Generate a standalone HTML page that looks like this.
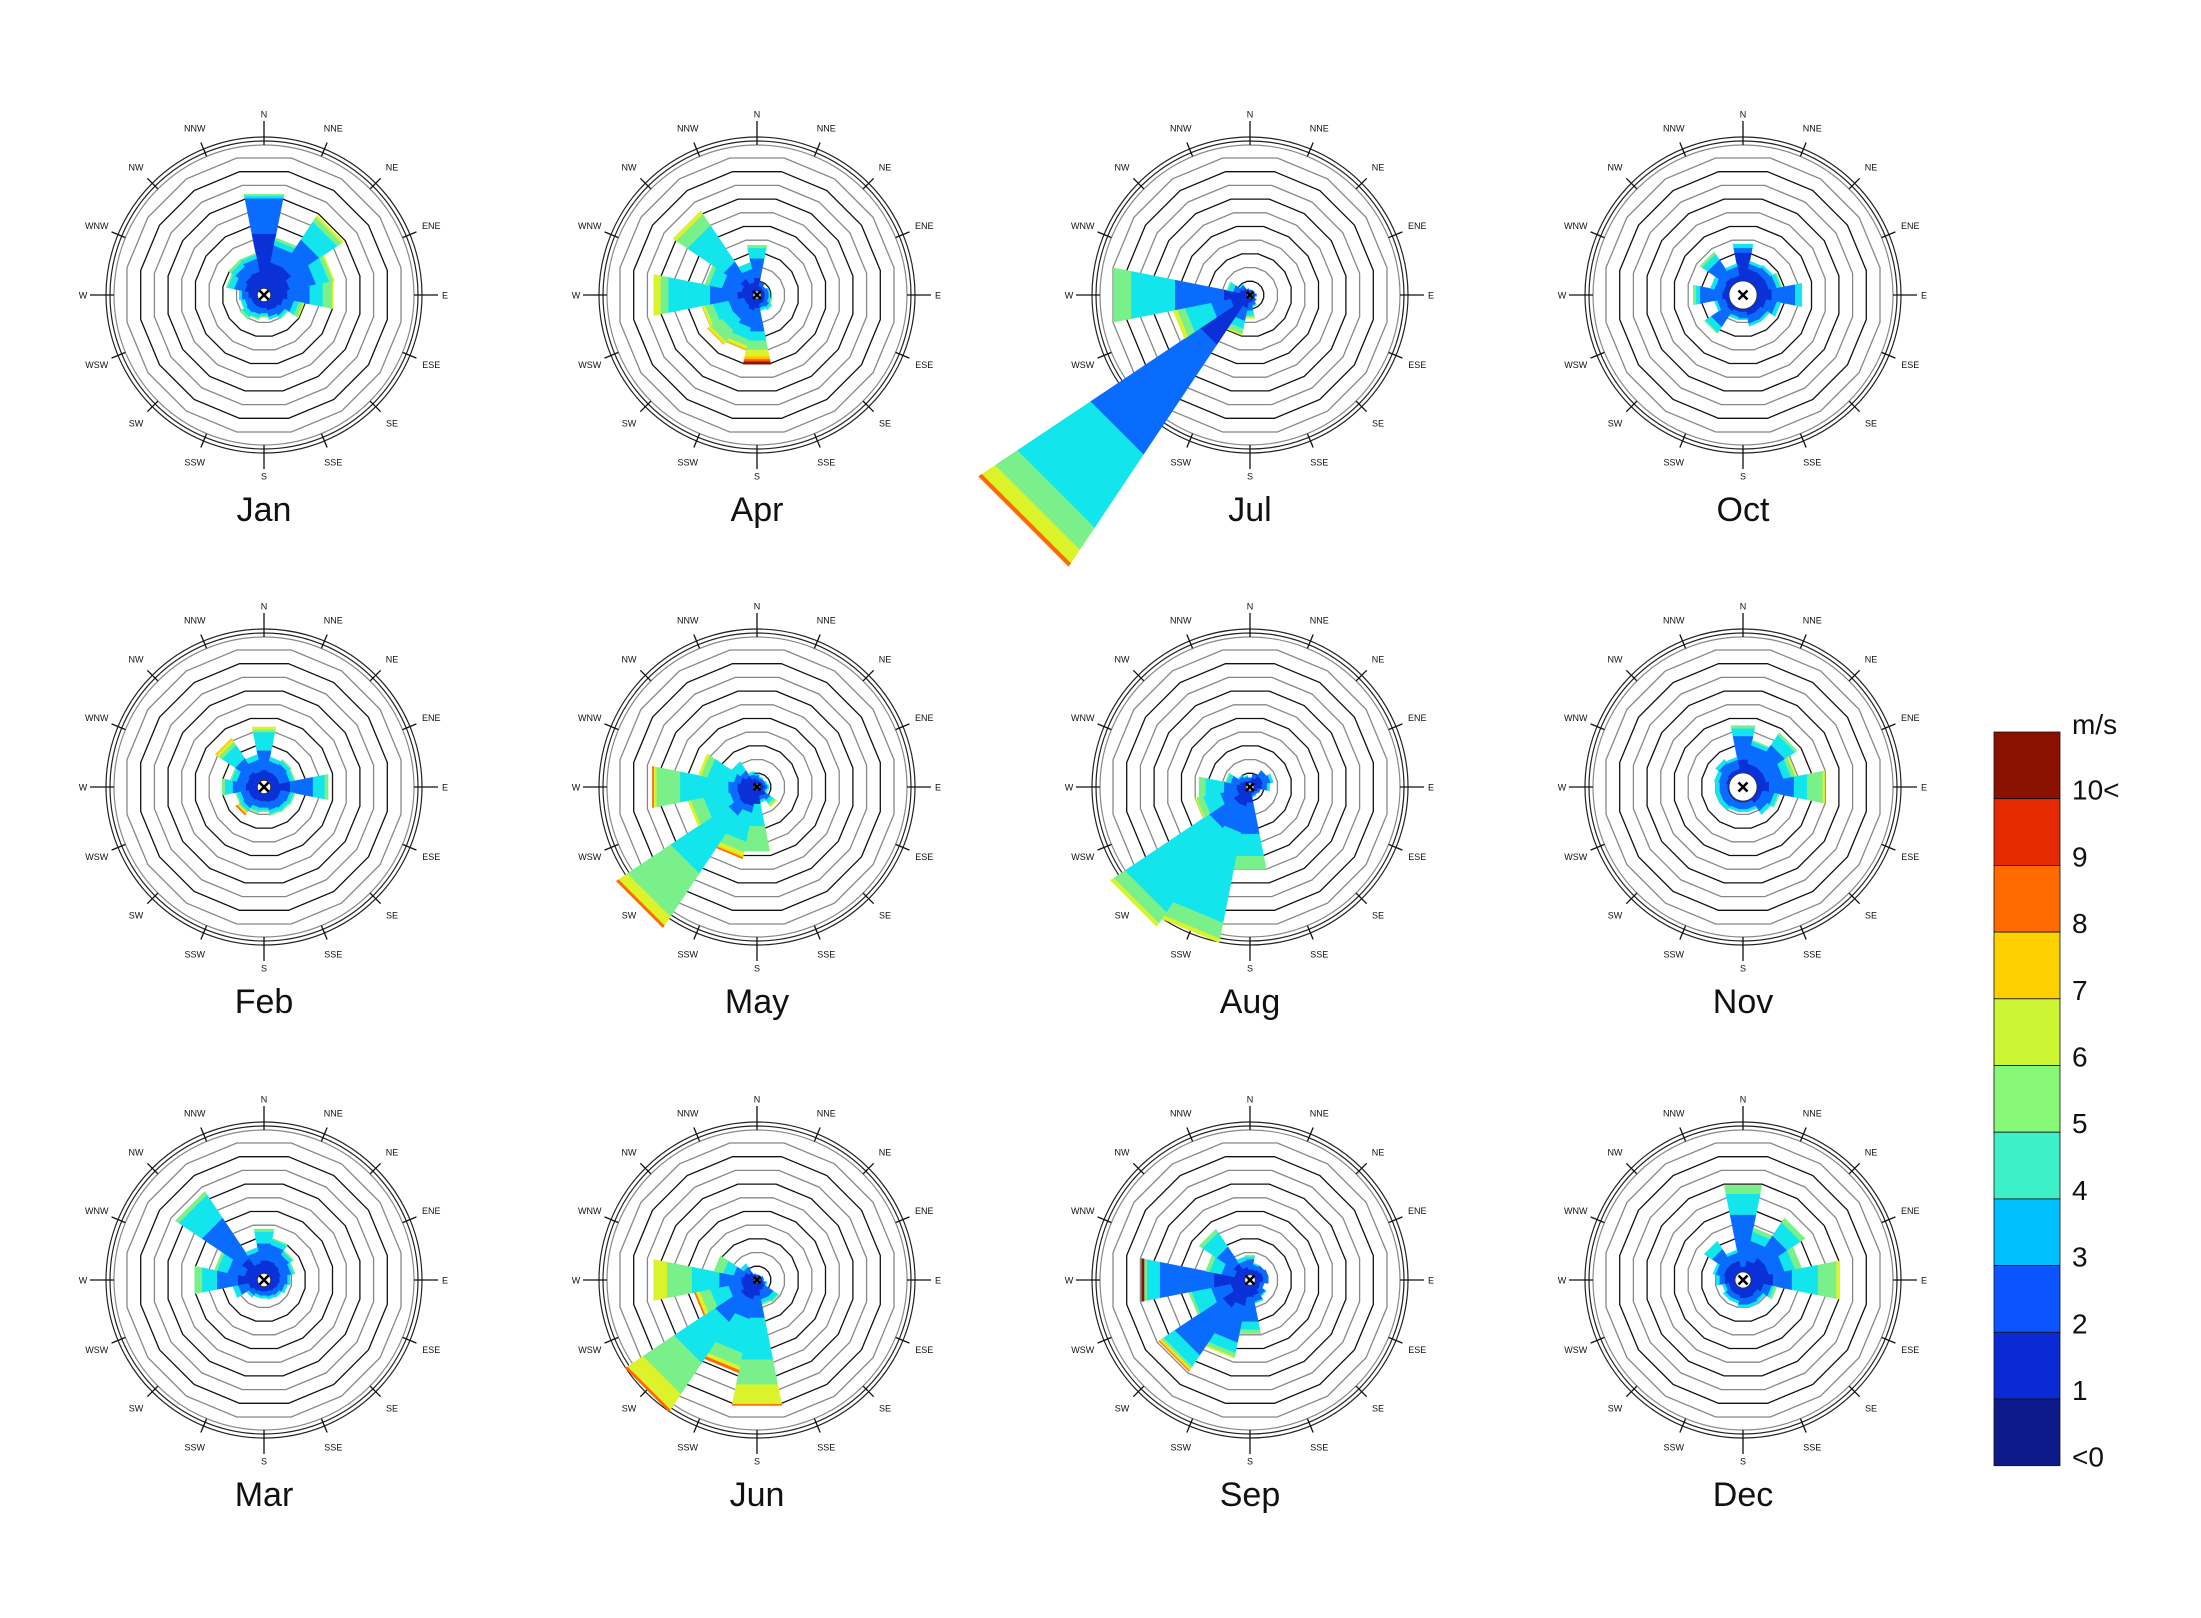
<!DOCTYPE html>
<html><head><meta charset="utf-8"><title>Monthly wind roses</title>
<style>
html,body{margin:0;padding:0;background:#fff;}
svg{display:block;}
text{font-family:"Liberation Sans",Arial,sans-serif;}
</style></head>
<body>
<svg id="chart" xmlns="http://www.w3.org/2000/svg" width="2201" height="1618" viewBox="0 0 2201 1618">
<rect width="2201" height="1618" fill="#fff"/>
<g id="roses"></g>
<g id="colorbar"></g>
</svg>
<script>
// ---- data ----
const months = ['Jan','Feb','Mar','Apr','May','Jun','Jul','Aug','Sep','Oct','Nov','Dec'];
const directions = ['N','NNE','NE','ENE','E','ESE','SE','SSE','S','SSW','SW','WSW','W','WNW','NW','NNW'];
const speedLabels = ['10<','9','8','7','6','5','4','3','2','1','<0'];
// segment lengths per speed class (frequency units) for each direction N..NNW
const jan = [[4.7,2.7,0.2,0.1],[2.5,1.3,0.4,0.2],[2.5,2.5,1.6,0.4,0.2],[2.0,2.0,1.0,0.3,0.1],[1.8,1.7,1.0,0.7,0.1],[1.5,0.8,0.4,0.3,0.1],[1.3,0.6,0.2,0.1],[1.2,0.5,0.2],[1.0,0.4,0.2,0.1],[1.0,0.5,0.3,0.1],[1.0,0.6,0.4,0.2],[1.0,0.5,0.3],[1.2,0.5,0.2],[1.5,0.8,0.5,0.1],[1.7,0.9,0.4,0.2],[1.8,1.0,0.3,0.1]];
const feb = [[1.3,1.5,1.4,0.2,0.2],[1.2,0.8,0.3],[1.2,0.9,0.3,0.1],[1.2,0.8,0.3,0.1],[2.0,1.75,0.9,0.25],[1.3,0.7,0.3,0.1],[1.3,0.6,0.3,0.1],[1.2,0.6,0.3,0.1],[1.1,0.5,0.2,0.1],[1.1,0.5,0.3,0.1],[1.2,0.7,0.3,0.1,0.1,0.05,0.1],[1.2,0.6,0.3,0.1],[1.4,1.0,0.6,0.2],[1.3,0.8,0.4,0.1],[1.4,1.2,1.2,0.3,0.2,0.1],[1.2,0.9,0.4]];
const mar = [[1.5,1.3,0.9,0.2],[1.5,1.2,0.4,0.1],[1.4,0.9,0.3,0.1],[1.3,0.8,0.2,0.1],[1.2,0.6,0.2],[1.1,0.5,0.2],[1.0,0.4,0.2],[0.9,0.4,0.2],[0.9,0.3,0.2],[0.9,0.3,0.2],[1.0,0.4,0.2],[1.2,0.8,0.4],[2.0,1.6,1.15,0.55],[1.5,1.3,0.8,0.2],[2.0,3.6,2.1,0.3],[1.3,0.9,0.3]];
const apr = [[1.3,1.5,0.8,0.2],[0.7,0.3],[0.6,0.2],[0.6,0.3,0.1],[0.6,0.3,0.1],[0.6,0.3,0.2,0.1],[0.7,0.4,0.2,0.1],[0.7,0.3,0.2],[1.0,1.8,0.7,0.7,0.5,0.2,0.15,0.1,0.15],[1.2,1.3,0.9,0.5,0.2,0.1],[1.0,1.2,1.0,1.0,0.2,0.1],[1.0,1.2,1.2,0.6,0.2],[1.5,2.1,3.2,0.6,0.5],[1.2,1.5,1.0,0.3],[1.5,1.5,3.3,1.0,0.3],[1.0,1.0,0.5]];
const may = [[0.6,0.3,0.1],[0.5,0.2,0.1],[0.5,0.2],[0.5,0.2,0.1],[0.6,0.2,0.1],[0.5,0.2,0.1,0.1],[0.8,0.4,0.3,0.2,0.1],[0.7,0.3,0.2],[1.3,0,1.7,1.9],[1.5,0.5,2.2,0.8,0.3,0.1,0.1],[1.6,1.0,5.2,3.9,0.8,0,0.2],[1.5,0.6,2.0,1.0,0.2],[1.5,0.7,3.7,1.8,0.2,0,0.1],[1.3,0.5,2.0,0.5,0.2],[1.0,0.5,0.8],[0.7,0.3,0.2]];
const jun = [[0.3,0.1],[0.3,0.1],[0.3,0.1],[0.4,0.1],[0.4,0.1],[0.5,0.2,0.1],[0.7,0.8,0.4,0.1],[0.8,0.7,0.3,0.1],[1.2,1.7,3.2,1.9,1.5,0,0.1],[1.5,1.5,2.6,1.0,0.3,0,0.2],[1.5,2.3,3.7,2.8,1.4,0,0.2],[1.2,1.0,1.4,0.8,0.3,0,0.1],[1.2,1.7,2.1,1.9,1.0],[1.0,0.8,0.8,0.7],[0.7,0.5,0.3],[0.4,0.1]];
const jul = [[0.3,0.1],[0.3,0.1],[0.3,0.1],[0.3,0.1],[0.4,0.1],[0.3,0.1],[0.4,0.2],[0.5,0.3,0.1],[0.6,0.6,0.4,0.1,0.1],[1.0,1.0,0.6,0.4,0.1],[4.5,9.9,6.6,2.0,1.2,0,0.3],[1.5,1.5,2.0,0.6,0.3],[2.0,3.75,3.35,1.35],[0.8,0.5,0.4,0.1],[0.6,0.3,0.1],[0.4,0.1]];
const aug = [[0.5,0.2],[0.7,0.3],[1.0,0.5],[1.0,0.6,0.2],[0.9,0.4,0.2],[0.6,0.2],[0.5,0.2],[0.5,0.2,0.1],[1.2,2.4,1.7,1.0],[1.5,2.0,6.9,1.2,0.3],[1.5,2.2,7.6,1.0,0.3],[1.0,1.3,1.3,0.5,0.1],[1.0,1.0,1.4,0.5],[0.8,0.7,0.3,0.1],[0.6,0.4,0.1],[0.5,0.3,0.1]];
const sep = [[0.8,0.8,0.2,0.1],[0.8,0.4,0.1],[0.9,0.4],[1.0,0.4],[1.0,0.4],[0.8,0.3],[0.9,0.5,0.1],[1.2,0.5,0.1],[1.3,1.9,0.6,0.3],[2.0,2.8,0.8,0.3,0.1],[2.5,4.3,1.0,0.2,0.1,0.1,0.05],[1.5,1.5,1.5,0.2],[2.75,4.15,1.0,0.2,0,0,0,0,0.2],[1.2,1.0,0.9,0.3],[1.5,1.5,1.3,0.3],[1.0,0.5,0.3]];
const oct = [[3.25,0.35,0.3],[2.0,0.4,0.2],[2.0,0.5,0.2],[2.0,0.6,0.3,0.1],[2.2,1.8,0.5],[1.8,0.8,0.3],[1.6,0.6,0.2],[1.6,0.6,0.2],[1.3,0.5,0.1],[1.3,0.4,0.2],[1.5,1.4,0.5,0.1],[1.4,0.6,0.2],[1.6,1.7,0.3,0.2],[1.5,0.7,0.3],[1.6,1.6,0.5,0.2],[1.5,0.7,0.2]];
const nov = [[2.1,1.8,0.6,0.2],[1.8,1.4,0.3,0.1],[1.8,2.0,0.9,0.2],[1.8,1.3,0.6,0.3,0.1],[2.0,1.9,1.0,1.2,0.15],[1.5,0.9,0.3,0.1],[1.5,0.7,0.3],[1.2,0.5,0.2],[1.2,0.5,0.2],[1.2,0.5,0.2],[1.2,0.6,0.3],[1.2,0.6,0.3],[1.2,0.6,0.3],[1.3,0.6,0.3],[1.4,0.8,0.3],[1.4,0.7,0.2]];
const dec = [[1.0,4.0,1.6,0.65],[1.5,1.5,0.7,0.3],[2.0,2.0,1.2,0.4],[2.0,1.2,0.8,0.5],[2.3,1.45,2.0,1.4,0.25],[1.6,0.6,0.2,0.2],[1.3,0.5,0.2],[1.4,0.5,0.2],[1.4,0.5,0.2],[1.2,0.4,0.2],[1.2,0.4,0.2],[1.1,0.3,0.2],[1.4,0.4,0.25],[1.5,0.6,0.2],[1.5,1.3,0.7],[1.5,0.6,0.2]];
const calmPct = [0.5,0.5,0.5,0.3,0.15,0.15,0.15,0.3,0.4,1.05,1.05,0.6];

// ---- styling / layout ----
const monthData = [jan,feb,mar,apr,may,jun,jul,aug,sep,oct,nov,dec];
const petalColors = ['#0a30d8','#0a6cff','#12e6ec','#7af08a','#dcf22a','#ffc800','#ff6a00','#e02a00','#8a1000'];
const barColors = ['#8a1000','#e62a00','#ff6a00','#ffd000','#ccf533','#88f878','#3ef0c8','#00bfff','#0a55ff','#0a2ad6','#0c1a8a'];
const colX = [264,757,1250,1743], rowY = [295,787,1280];
const unit = 13.33, ringStep = 13.7;
const NS = 'http://www.w3.org/2000/svg';
function mk(tag, attrs, parent){const e=document.createElementNS(NS,tag);for(const k in attrs)e.setAttribute(k,attrs[k]);parent.appendChild(e);return e;}
function pt(cx,cy,r,deg){const a=deg*Math.PI/180;return [cx+r*Math.sin(a), cy-r*Math.cos(a)];}
function rScale(v){return v*unit;}

const roses = document.getElementById('roses');
months.forEach((m,mi)=>{
  const cx = colX[Math.floor(mi/3)], cy = rowY[mi%3];
  const g = mk('g',{},roses);
  
  
  for(let k=1;k<=10;k++){
    const R = k*ringStep/Math.cos(Math.PI/16);
    const pts=[];
    for(let j=0;j<16;j++){const p=pt(cx,cy,R,11.25+j*22.5);pts.push(p[0].toFixed(1)+','+p[1].toFixed(1));}
    const ring = mk('polygon',{points:pts.join(' '),fill:'none',stroke:k%2?'#111':'#888','stroke-width':1.3},g);
    
    
  }
  [[150,'#888'],[154,'#222'],[158,'#222']].forEach(c=>{
    const o = mk('circle',{cx:cx,cy:cy,r:c[0],fill:'none',stroke:c[1],'stroke-width':1.2},g);
    
    
  });
  directions.forEach((d,di)=>{
    const ang = di*22.5;
    const long = di%4===0;
    const p1=pt(cx,cy,150,ang), p2=pt(cx,cy,long?174:165,ang);
    const t = mk('line',{x1:p1[0],y1:p1[1],x2:p2[0],y2:p2[1],stroke:'#111','stroke-width':1.3},g);
    
    
    const lp = pt(cx,cy,181,ang);
    const tx = mk('text',{x:lp[0],y:lp[1]+3.5,'text-anchor':'middle','font-size':9,fill:'#111'},g);
    tx.textContent=d;
    
    
  });
  const data = monthData[mi];
  data.forEach((segs,di)=>{
    const ang = di*22.5;
    let r0 = 0;
    segs.forEach((len,si)=>{
      if(len<=0) return;
      const r1 = r0+len;
      const a=pt(cx,cy,rScale(r0),ang-11.25), b=pt(cx,cy,rScale(r1),ang-11.25),
            c=pt(cx,cy,rScale(r1),ang+11.25), d=pt(cx,cy,rScale(r0),ang+11.25);
      const poly = mk('polygon',{points:[a,b,c,d].map(p=>p[0].toFixed(1)+','+p[1].toFixed(1)).join(' '),fill:petalColors[si],stroke:petalColors[si],'stroke-width':0.4},g);
      
      
      r0 = r1;
    });
  });
  const cr = Math.max(3, rScale(calmPct[mi]));
  const cc = mk('circle',{cx:cx,cy:cy,r:cr,fill:'#fff',stroke:'#333','stroke-width':0.8},g);
  
  
  const s = Math.min(4.5, cr*0.6+1.5);
  const x1 = mk('path',{d:`M${cx-s},${cy-s}L${cx+s},${cy+s}M${cx+s},${cy-s}L${cx-s},${cy+s}`,stroke:'#000','stroke-width':2.6},g);
  
  
  const tt = mk('text',{x:cx,y:cy+226,'text-anchor':'middle','font-size':34,fill:'#111'},g);
  tt.textContent = m;
  
  
});

// colorbar
const cb = document.getElementById('colorbar');
const cbTop=732, cbH=66.7, cbX=1994, cbW=66;
for(let i=0;i<11;i++){
  const r = mk('rect',{x:cbX,y:cbTop+i*cbH,width:cbW,height:cbH,fill:barColors[i],stroke:'#111','stroke-width':0.8},cb);
  
  
}
const unitT = mk('text',{x:2072,y:734,'font-size':28,fill:'#111','font-family':'DejaVu Sans, sans-serif'},cb);
unitT.textContent='m/s';


speedLabels.forEach((l,i)=>{
  const t = mk('text',{x:2072,y:cbTop+(i+1)*cbH+1,'font-size':28,fill:'#111','font-family':'DejaVu Sans, sans-serif'},cb);
  t.textContent=l;
  
  
});
</script>
</body></html>
